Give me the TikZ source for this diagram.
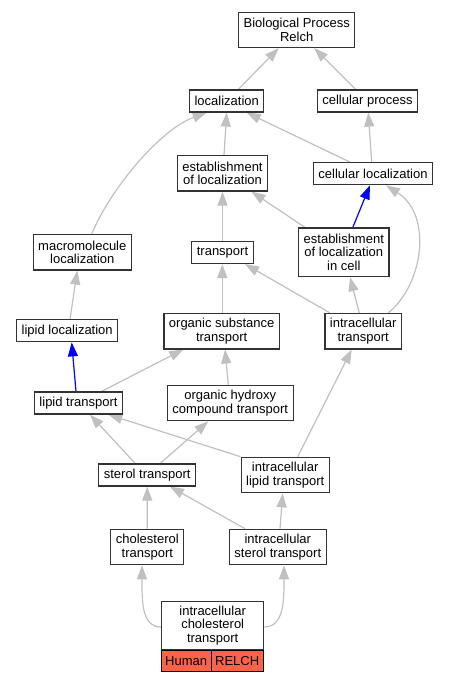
\documentclass[tikz,border=0pt]{standalone}
\usepackage{fontspec}
\setmainfont{Liberation Sans}
\usetikzlibrary{arrows.meta,positioning,backgrounds}

\definecolor{edgegray}{RGB}{192,192,192}
\definecolor{tomatored}{RGB}{255,99,71}

\tikzset{
  term/.style={draw=black!80, line width=1.2pt, fill=white, align=center,
    inner xsep=5pt, inner ysep=2pt, minimum height=22pt,
    font=\fontsize{13}{13.5}\selectfont},
  term2/.style={term, minimum height=35.4pt},
  term3/.style={term, minimum height=48.6pt},
  tag/.style={draw=black, line width=1pt, fill=tomatored, inner xsep=3pt,
    inner ysep=0pt, outer sep=0pt, minimum height=21.3pt, anchor=north west,
    font=\fontsize{13}{13.5}\selectfont},
  edge/.style={-{Triangle[length=14pt,width=10pt]}, line width=1.2pt, edgegray},
  bedge/.style={edge, blue},
}

\begin{document}
\begin{tikzpicture}[x=1pt,y=-1pt]
        \useasboundingbox (0,0) rectangle (449,683);

        % terms, top to bottom
        \node[term2] (bp) at (296.7,29.8) {Biological Process\\Relch};
        \node[term] (loc) at (226.7,101) {localization};
        \node[term] (cp) at (367.5,101) {cellular process};
        \node[term2] (estloc) at (222.5,173.3) {establishment\\of localization};
        \node[term] (celloc) at (373,173.7) {cellular localization};
        \node[term2] (macro) at (82.3,252.3) {macromolecule\\localization};
        \node[term] (transport) at (222.5,252.5) {transport};
        \node[term3] (elic) at (343.8,252.3) {establishment\\of localization\\in cell};
        \node[term] (lipl) at (67.2,330.8) {lipid localization};
        \node[term2] (ost) at (221.7,331.2) {organic substance\\transport};
        \node[term2] (it) at (363.2,331.2) {intracellular\\transport};
        \node[term] (lipt) at (78.5,403) {lipid transport};
        \node[term2] (ohct) at (230.3,403) {organic hydroxy\\compound transport};
        \node[term] (st) at (147.2,475) {sterol transport};
        \node[term2] (ilt) at (285.2,475) {intracellular\\lipid transport};
        \node[term2] (cht) at (147.3,547) {cholesterol\\transport};
        \node[term2] (ist) at (277.8,547) {intracellular\\sterol transport};
        \node[term3, minimum width=102pt] (ict) at (212.7,625.5) {intracellular\\cholesterol\\transport};
        \node[tag, minimum width=50.1pt] (human) at (ict.south west) {Human};
        \node[tag, minimum width=51.9pt] (relch) at (human.north east) {RELCH};

        \begin{scope}[on background layer]
        % straight edges: child/shift/parent/shift
        \foreach \a/\sa/\b/\sb in {loc/11.6/bp/-18, cp/-11.8/bp/17.6,
            estloc/1.5/loc/0, celloc/-23/loc/20, celloc/-1.3/cp/0.8,
            transport/0/estloc/0, elic/-38.8/estloc/29,
            it/-33.2/transport/22.5, it/-3.9/elic/6.2, lipl/2.8/macro/-5,
            ost/0.6/transport/-0.2, lipt/23/ost/-38.4, ohct/-2/ost/3.3,
            st/-12/lipt/11.5, st/13/ohct/-22, ilt/12.5/it/-11.5,
            cht/0/st/0, ist/-32.8/st/22.8, ist/2.2/ilt/-2.5}
        \draw[edge] ([xshift=\sa pt]\a.north) -- ([xshift=\sb pt]\b.south);

        \draw[edge] (ilt.north west) -- ([xshift=29.8pt]lipt.south);

        % blue ones
        \draw[bedge] ([xshift=9pt]elic.north) -- ([xshift=-3pt]celloc.south);
        \draw[bedge] ([xshift=-2.5pt]lipt.north) -- ([xshift=4.5pt]lipl.south);

        % curved ones
        \draw[edge] ([xshift=9.4pt]macro.north) .. controls +(18,-44) and +(-47,17) .. ([xshift=-20pt]loc.south);
        \draw[edge] ([xshift=25pt]it.north) .. controls +(35,-28) and +(47,30) .. ([xshift=13pt]celloc.south);
        \draw[edge] ([yshift=-1.5pt]ict.west) .. controls +(-20,0) and +(0,34) .. ([xshift=-5.3pt]cht.south);
        \draw[edge] ([yshift=-1.5pt]ict.east) .. controls +(20,0) and +(0,34) .. ([xshift=6.2pt]ist.south);
        \end{scope}
\end{tikzpicture}
\end{document}
